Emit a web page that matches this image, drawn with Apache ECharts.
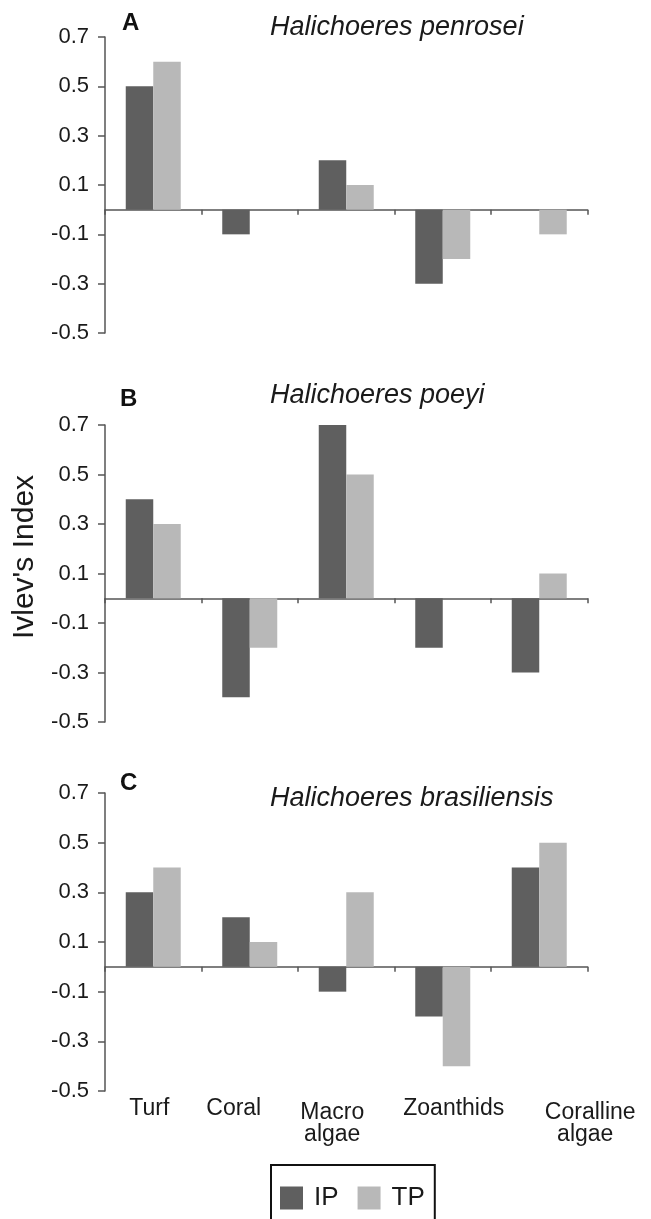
<!DOCTYPE html>
<html><head><meta charset="utf-8">
<script src="https://cdn.jsdelivr.net/npm/echarts@6/dist/echarts.min.js"></script>
<style>html,body{margin:0;padding:0;background:#fff}#c{width:651px;height:1219px}</style>
</head><body><div id="c"></div><script>
// ---- data ----
const categories = ['Turf', 'Coral', 'Macro\nalgae', 'Zoanthids', 'Coralline\nalgae'];
const seriesNames = ['IP', 'TP'];
const panelLetters = ['A', 'B', 'C'];
const speciesNames = ['Halichoeres penrosei', 'Halichoeres poeyi', 'Halichoeres brasiliensis'];
const ipA = [0.5, -0.1, 0.2, -0.3, 0];
const tpA = [0.6, 0, 0.1, -0.2, -0.1];
const ipB = [0.4, -0.4, 0.7, -0.2, -0.3];
const tpB = [0.3, -0.2, 0.5, 0, 0.1];
const ipC = [0.3, 0.2, -0.1, -0.2, 0.4];
const tpC = [0.4, 0.1, 0.3, -0.4, 0.5];
const yTicks = [-0.5, -0.3, -0.1, 0.1, 0.3, 0.5, 0.7];
const yMin = -0.5, yMax = 0.7;
const yAxisTitle = "Ivlev's Index";

// ---- layout / style ----
const FONT = '"Liberation Sans", Arial, Helvetica, sans-serif';
const AXIS = '#555555';
const DARK = '#5f5f5f', LIGHT = '#b8b8b8';
const gridTops = [37, 425, 793];
const gridHeights = [296, 297, 298];
const titleTops = [14, 382, 785];
const letterPos = [[122, 11], [120, 387], [120, 771]];
const panels = [[ipA, tpA], [ipB, tpB], [ipC, tpC]];

const grids = gridTops.map((t, i) => ({left: 105, width: 482.5, top: t, height: gridHeights[i]}));

const xAxes = grids.map((g, i) => ({
  type: 'category', gridIndex: i, data: categories,
  axisLine: {onZero: true, lineStyle: {color: AXIS, width: 1.5}},
  axisTick: {show: true, length: 5, lineStyle: {color: AXIS, width: 1.5}},
  axisLabel: {show: false}
}));
// label-only axis under panel C
const labelShift = {
  c0a: [0, 8, 0, 0], c1a: [0, 32, 0, 0], c2a: [7, 28, 0, 0], c2b: [0, 28, 0, 0],
  c3a: [0, 0, 0, 22], c4a: [7, 0, 0, 102], c4b: [0, 0, 0, 92]
};
const rich = {};
Object.keys(labelShift).forEach(k => {
  rich[k] = {padding: labelShift[k], fontSize: 23, fontFamily: FONT, color: '#1a1a1a', lineHeight: 26, align: 'center'};
});
xAxes.push({
  type: 'category', gridIndex: 2, data: categories, position: 'bottom',
  axisLine: {show: false, onZero: false}, axisTick: {show: false},
  axisLabel: {
    interval: 0, margin: 5, fontSize: 23, fontFamily: FONT, color: '#1a1a1a', lineHeight: 26,
    formatter: (val, idx) => val.split('\n').map((ln, li) => '{c' + idx + (li === 0 ? 'a' : 'b') + '|' + ln + '}').join('\n'),
    rich: rich
  }
});

const yAxes = grids.map((g, i) => ({
  type: 'value', gridIndex: i, min: yMin, max: yMax,
  splitLine: {show: false},
  axisLine: {show: true, lineStyle: {color: AXIS, width: 1.5}},
  axisTick: {show: true, length: 7, customValues: yTicks, lineStyle: {color: AXIS, width: 1.5}},
  axisLabel: {customValues: yTicks, margin: 16, fontSize: 22, fontFamily: FONT, color: '#1a1a1a'},
  name: i === 1 ? yAxisTitle : '',
  nameLocation: 'middle', nameRotate: 90, nameGap: 62,
  nameTextStyle: {fontSize: 30, fontFamily: FONT, color: '#1a1a1a', padding: [0, 0, 0, 33]}
}));

const series = [];
panels.forEach((p, i) => {
  p.forEach((vals, s) => {
    series.push({
      type: 'bar', name: seriesNames[s], xAxisIndex: i, yAxisIndex: i,
      data: vals, barWidth: 27.5, barGap: '0%',
      itemStyle: {color: s === 0 ? DARK : LIGHT}
    });
  });
});

const titles = [];
speciesNames.forEach((n, i) => {
  titles.push({text: n, left: 270, top: titleTops[i], padding: 0,
    textStyle: {fontSize: 27, fontStyle: 'italic', fontWeight: 'normal', fontFamily: FONT, color: '#1a1a1a'}});
  titles.push({text: panelLetters[i], left: letterPos[i][0], top: letterPos[i][1], padding: 0,
    textStyle: {fontSize: 24, fontWeight: 'bold', fontFamily: FONT, color: '#111'}});
});

const chart = echarts.init(document.getElementById('c'), null, {renderer: 'canvas'});
chart.setOption({
  animation: false,
  backgroundColor: '#fff',
  title: titles,
  grid: grids,
  xAxis: xAxes,
  yAxis: yAxes,
  legend: {
    data: seriesNames, left: 271, top: 1165, orient: 'horizontal',
    icon: 'rect', itemWidth: 23, itemHeight: 23, itemGap: 19,
    borderColor: '#111', borderWidth: 2, padding: [20, 10, 40, 9],
    textStyle: {fontSize: 26, fontFamily: FONT, color: '#1a1a1a', padding: [0, 0, 0, 6]}
  },
  series: series
});
</script></body></html>
